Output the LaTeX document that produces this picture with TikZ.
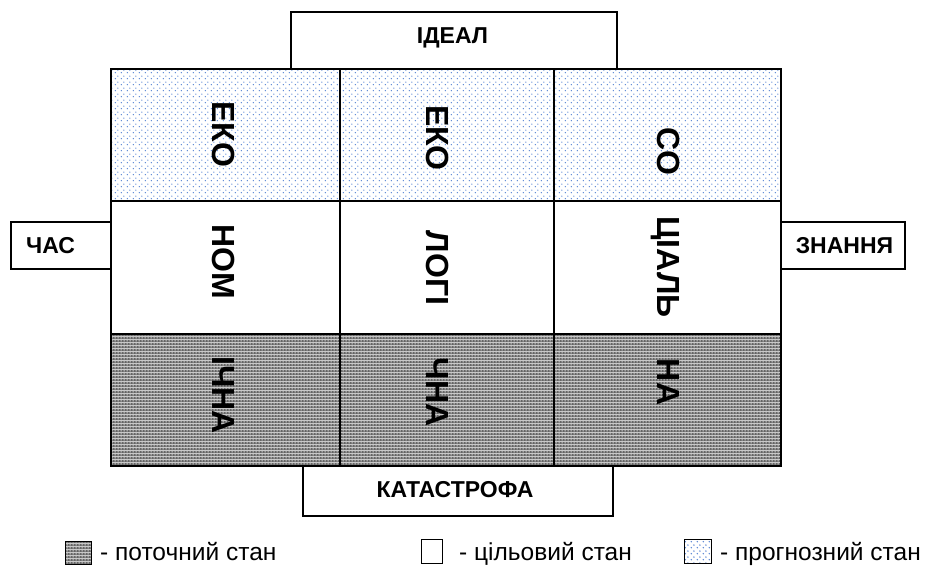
\documentclass[tikz,border=0pt]{standalone}
\usepackage{fontspec}
\setmainfont{Liberation Sans}
\usetikzlibrary{patterns.meta}

\definecolor{dotblue}{RGB}{85,130,210}
\definecolor{darkbase}{RGB}{100,100,100}

% light forecast fill: staggered blue dots on white
\tikzdeclarepattern{
  name=bluedots,
  type=colored,
  bottom left={(0pt,0pt)},
  top right={(6pt,6pt)},
  tile size={(6pt,6pt)},
  code={
    \pgfsetfillcolor{dotblue}
    \pgfpathcircle{\pgfpoint{1.5pt}{1.5pt}}{0.85pt}
    \pgfpathcircle{\pgfpoint{4.5pt}{4.5pt}}{0.85pt}
    \pgfusepath{fill}
  }
}

% dark current-state fill: grey with a fine grid of light points
\tikzdeclarepattern{
  name=greychecks,
  type=colored,
  bottom left={(0pt,0pt)},
  top right={(3pt,3pt)},
  tile size={(3pt,3pt)},
  code={
    \pgfsetfillcolor{darkbase}
    \pgfpathrectangle{\pgfpointorigin}{\pgfpoint{3pt}{3pt}}
    \pgfusepath{fill}
    \pgfsetfillcolor{white}
    \pgfpathrectangle{\pgfpoint{0.8pt}{0.8pt}}{\pgfpoint{1.2pt}{1.2pt}}
    \pgfusepath{fill}
  }
}

\tikzset{
  frame/.style={draw=black, line width=1.2pt, rectangle, inner sep=0pt, fill=white},
  cell/.style={draw=black, line width=1.1pt, rectangle, inner sep=0pt},
  forecast/.style={cell, pattern=bluedots},
  target/.style={cell, fill=white},
  current/.style={cell, pattern=greychecks},
  word/.style={rotate=-90, inner sep=0pt, text depth=0pt, font=\bfseries\fontsize{32}{32}\selectfont},
  caption/.style={anchor=base, inner sep=0pt, font=\bfseries\fontsize{23}{23}\selectfont},
  legtext/.style={anchor=base west, inner sep=0pt, font=\fontsize{24.5}{24.5}\selectfont},
}

\begin{document}
\begin{tikzpicture}[x=1pt, y=-1pt]
\useasboundingbox (0,0) rectangle (935,566);

% outer boxes around the grid
\node[frame, minimum width=326pt, minimum height=57pt] (ideal) at (454,40.5) {};
\node[frame, minimum width=100pt, minimum height=47pt] (time) at (61,245.5) {};
\node[frame, minimum width=124pt, minimum height=47pt] (know) at (843,245.5) {};
\node[frame, minimum width=310pt, minimum height=50pt] (catas) at (458,491) {};

\node[caption] (idealt) at (452.5,43) {ІДЕАЛ};
\node[caption] (timet) at (50.5,253.5) {ЧАС};
\node[caption] (knowt) at (844.5,253.5) {ЗНАННЯ};
\node[caption] (catast) at (455,497) {КАТАСТРОФА};

% 3 x 3 grid of states
\node[forecast, minimum width=229pt, minimum height=132pt] (c11) at (225.5,135) {};
\node[forecast, minimum width=214pt, minimum height=132pt] (c12) at (447,135) {};
\node[forecast, minimum width=227pt, minimum height=132pt] (c13) at (667.5,135) {};
\node[target, minimum width=229pt, minimum height=133pt] (c21) at (225.5,267.5) {};
\node[target, minimum width=214pt, minimum height=133pt] (c22) at (447,267.5) {};
\node[target, minimum width=227pt, minimum height=133pt] (c23) at (667.5,267.5) {};
\node[current, minimum width=229pt, minimum height=132pt] (c31) at (225.5,400) {};
\node[current, minimum width=214pt, minimum height=132pt] (c32) at (447,400) {};
\node[current, minimum width=227pt, minimum height=132pt] (c33) at (667.5,400) {};

\draw[line width=1.4pt] (c11.north west) rectangle (c33.south east);

% words written downwards
\node[word] (w11) at (223.5,134.5) {ЕКО};
\node[word] (w21) at (223.5,262) {НОМ};
\node[word] (w31) at (223.5,395) {ІЧНА};
\node[word] (w12) at (438,138) {ЕКО};
\node[word] (w22) at (438,268) {ЛОГІ};
\node[word] (w32) at (438,392) {ЧНА};
\node[word] (w13) at (668.5,151.5) {СО};
\node[word] (w23) at (668.5,267) {ЦІАЛЬ};
\node[word] (w33) at (668.5,382) {НА};

% legend
\node[current, line width=0.9pt, minimum width=26pt, minimum height=23pt] (leg1) at (78.5,552.5) {};
\node[legtext] (legt1) at (100,560.5) {- поточний стан};
\node[target, line width=0.9pt, minimum width=21pt, minimum height=24pt] (leg2) at (432,551.5) {};
\node[legtext] (legt2) at (459,560.5) {- цільовий стан};
\node[forecast, line width=0.9pt, minimum width=27pt, minimum height=24pt] (leg3) at (698,551.5) {};
\node[legtext] (legt3) at (720,560.5) {- прогнозний стан};
\end{tikzpicture}
\end{document}
